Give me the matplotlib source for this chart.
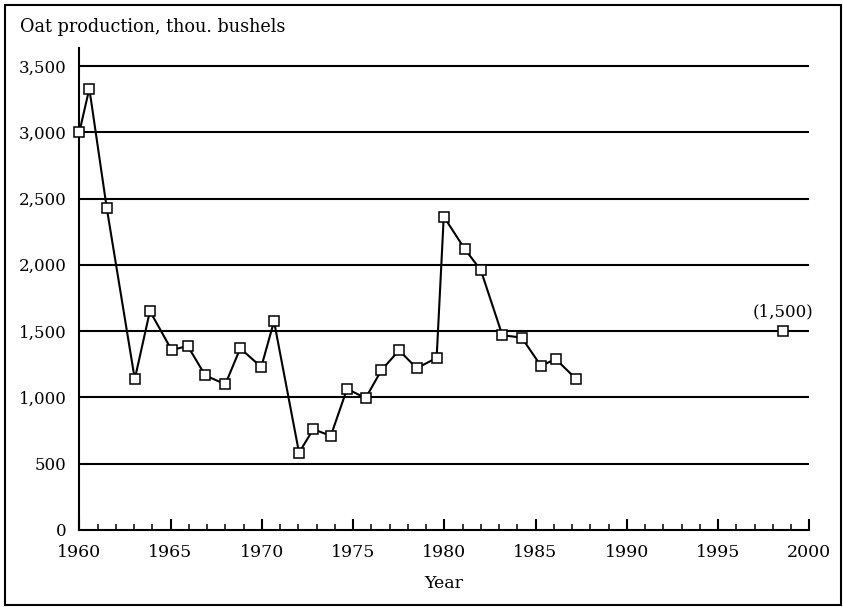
import numpy as np
import matplotlib
matplotlib.use("Agg")
import matplotlib.pyplot as plt
from matplotlib.patches import Rectangle
from matplotlib.ticker import MultipleLocator, FuncFormatter

# oat production
years = [1960.0, 1960.55, 1961.5, 1963.04, 1963.87, 1965.06, 1965.94, 1966.9,
         1968.0, 1968.82, 1969.97, 1970.67, 1972.04, 1972.82, 1973.78, 1974.67,
         1975.69, 1976.55, 1977.52, 1978.49, 1979.58, 1979.97, 1981.13, 1982.0,
         1983.18, 1984.24, 1985.3, 1986.1, 1987.23]
production = [3000, 3329, 2432, 1138, 1651, 1357, 1388, 1166,
              1099, 1370, 1229, 1574, 583, 760, 710, 1064,
              995, 1204, 1355, 1220, 1298, 2364, 2117, 1960,
              1469, 1451, 1237, 1290, 1138]

# projected point
proj_year = 1998.54
proj_value = 1500
proj_label = "(1,500)"

yticks = [0, 500, 1000, 1500, 2000, 2500, 3000, 3500]
xticks = [1960, 1965, 1970, 1975, 1980, 1985, 1990, 1995, 2000]

plt.rcParams['font.family'] = ['DejaVu Serif']
plt.rcParams['font.size'] = 12

fig = plt.figure(figsize=(8.43, 6.07), dpi=100)
W, H = 843, 607
ax = fig.add_axes([79.3 / W, 1 - 530 / H, (809.3 - 79.3) / W, (530 - 48) / H])

ax.set_xlim(1960, 2000)
ax.set_ylim(0, 3635)

# horizontal grid lines
for v in yticks[1:]:
    ax.axhline(v, color='black', lw=1.5, zorder=1)

ax.plot(years, production, color='black', lw=1.5, marker='s', ms=6.5,
        mfc='white', mec='black', mew=1.1, zorder=3, clip_on=False)
ax.plot([proj_year], [proj_value], ls='none', marker='s', ms=6.5,
        mfc='white', mec='black', mew=1.1, zorder=3)
ax.annotate(proj_label, (proj_year, proj_value), xytext=(0, 8),
            textcoords='offset points', ha='center', va='bottom', fontsize=12)

for s in ['top', 'right']:
    ax.spines[s].set_visible(False)
for s in ['left', 'bottom']:
    ax.spines[s].set_linewidth(1.5)

ax.set_yticks(yticks)
ax.yaxis.set_major_formatter(FuncFormatter(lambda v, p: f"{int(v):,}"))
ax.tick_params(axis='y', length=0, pad=9, labelsize=12)

ax.set_xticks(xticks)
ax.xaxis.set_minor_locator(MultipleLocator(1))
ax.tick_params(axis='x', which='major', direction='in', length=8, width=1.5,
               pad=10, labelsize=12.5)
ax.tick_params(axis='x', which='minor', direction='in', length=4, width=1.1)

fig.text(20 / W, 1 - 27 / H, "Oat production, thou. bushels", ha='left',
         va='center', fontsize=12.7)
fig.text(444 / W, 1 - 583 / H, "Year", ha='center', va='center', fontsize=12.5)

# frame around the whole figure
fig.patches.append(Rectangle((5 / W, 1 - 605 / H), 836 / W, 600 / H,
                             transform=fig.transFigure, fill=False,
                             edgecolor='black', lw=1.5))

fig.savefig('out.png', dpi=100)
